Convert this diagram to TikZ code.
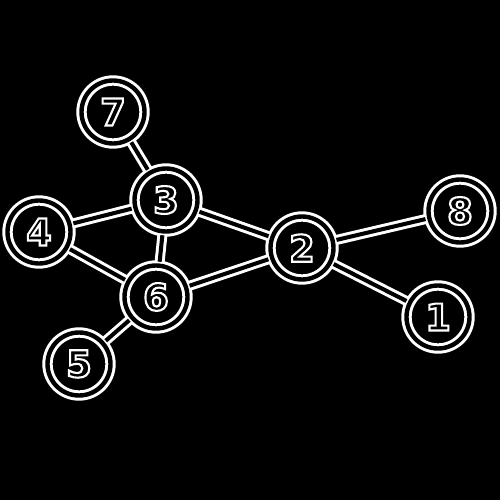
\documentclass[tikz,border=0pt]{standalone}
\usepackage{fontspec}
\setmainfont{DejaVu Sans}
\usepackage{tikz}

% hollow digits: black fill, white stroke
\newcommand{\hollow}[1]{\special{pdf:literal direct 2 Tr 1.2 w 1 G 0 g}#1\special{pdf:literal direct 0 Tr}}

\begin{document}
\begin{tikzpicture}[x=0.02cm, y=-0.02cm,
ballnode/.style={circle, draw=white, fill=black, line width=1.7pt, double=black, double distance=2.5pt, minimum size=1.26cm, inner sep=0pt, text=black, font=\fontsize{21}{21}\selectfont\bfseries},
linkline/.style={draw=white, line width=1.7pt, double=black, double distance=2.3pt, shorten <=1.4pt, shorten >=1.4pt},
]
\useasboundingbox[fill=black] (0,0) rectangle (500,500);
%Nodes
\node[ballnode] (n7) at (113,112) {\hollow{7}};
\node[ballnode] (n3) at (166,200) {\hollow{3}};
\node[ballnode] (n4) at (39,232)  {\hollow{4}};
\node[ballnode] (n6) at (156,297) {\hollow{6}};
\node[ballnode] (n5) at (79,364)  {\hollow{5}};
\node[ballnode] (n2) at (302,248) {\hollow{2}};
\node[ballnode] (n8) at (460,211) {\hollow{8}};
\node[ballnode] (n1) at (438,317) {\hollow{1}};

%Lines
\draw[linkline] (n7) -- (n3);
\draw[linkline] (n3) -- (n4);
\draw[linkline] (n4) -- (n6);
\draw[linkline] (n3) -- (n6);
\draw[linkline] (n3) -- (n2);
\draw[linkline] (n6) -- (n2);
\draw[linkline] (n6) -- (n5);
\draw[linkline] (n2) -- (n8);
\draw[linkline] (n2) -- (n1);

\end{tikzpicture}
\end{document}
